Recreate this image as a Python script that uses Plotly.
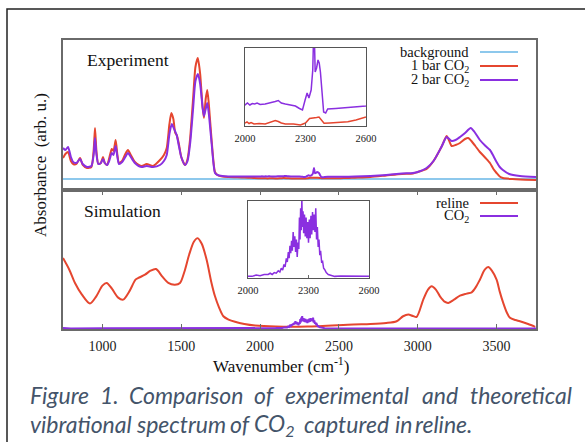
import plotly.graph_objects as go

# ---------------- data ----------------
x_ticks = [1000, 1500, 2000, 2500, 3000, 3500]
inset_ticks = [2000, 2300, 2600]

exp_bg_wn = [750, 1500, 2250, 3000, 3750]
exp_bg = [0.0, 0.0, 0.0, 0.0, 0.0]

exp_1bar_wn = [750, 765, 782, 800, 815, 835, 858, 875, 902, 930, 945, 953, 962, 974, 990,
               1004, 1015, 1030, 1045, 1059, 1070, 1084, 1095, 1105, 1125, 1145, 1162, 1180,
               1206, 1230, 1250, 1281, 1321, 1365, 1390, 1408, 1425, 1437, 1450, 1462, 1471,
               1485, 1500, 1524, 1540, 1556, 1575, 1590, 1605, 1620, 1635, 1644, 1655, 1665,
               1675, 1693, 1714, 1730, 1760, 1800, 1900,
               2000, 2010, 2020, 2030, 2045, 2070, 2100, 2130, 2150, 2165, 2180, 2200, 2240,
               2275, 2300, 2320, 2335, 2355, 2367, 2380, 2392, 2420, 2470, 2510, 2550, 2580, 2600,
               2700, 2800, 2900, 2970, 3000, 3056, 3100, 3150, 3183, 3200, 3215, 3240, 3268,
               3300, 3320, 3340, 3365, 3394, 3430, 3458, 3480, 3500, 3520, 3540, 3600, 3650, 3750]
exp_1bar = [0.21, 0.25, 0.27, 0.18, 0.15, 0.15, 0.21, 0.14, 0.11, 0.12, 0.30, 0.51, 0.28, 0.15, 0.16,
            0.22, 0.16, 0.14, 0.22, 0.30, 0.28, 0.39, 0.24, 0.16, 0.18, 0.25, 0.29, 0.24,
            0.17, 0.14, 0.13, 0.15, 0.13, 0.19, 0.24, 0.31, 0.55, 0.66, 0.60, 0.46, 0.44,
            0.35, 0.22, 0.14, 0.20, 0.40, 0.80, 1.12, 1.21, 1.05, 0.72, 0.61, 0.80, 0.89,
            0.75, 0.38, 0.07, 0.04, 0.025, 0.02, 0.015,
            0.007, 0.008, 0.0065, 0.0075, 0.006, 0.0065, 0.006, 0.008, 0.0095, 0.0085, 0.007, 0.006, 0.006,
            0.005, 0.007, 0.0115, 0.0117, 0.0125, 0.013, 0.010, 0.0067, 0.007, 0.0075, 0.0083, 0.010, 0.0115, 0.013,
            0.02, 0.035, 0.05, 0.055, 0.07, 0.10, 0.18, 0.32, 0.43, 0.38, 0.33, 0.34, 0.36,
            0.40, 0.41, 0.38, 0.33, 0.27, 0.21, 0.16, 0.10, 0.06, 0.025, 0.01, 0.0, -0.005, -0.01]

exp_2bar_wn = [750, 765, 782, 800, 815, 835, 858, 875, 902, 930, 945, 953, 962, 974, 990,
               1004, 1015, 1030, 1045, 1059, 1070, 1084, 1095, 1105, 1125, 1145, 1162, 1180,
               1206, 1230, 1250, 1281, 1321, 1365, 1390, 1408, 1425, 1440, 1455, 1471, 1485,
               1500, 1524, 1540, 1556, 1575, 1590, 1606, 1620, 1635, 1644, 1655, 1665, 1675,
               1693, 1714, 1730, 1760, 1800, 1900,
               2000, 2012, 2024, 2036, 2048, 2060, 2075, 2100, 2125, 2150, 2165, 2180, 2200,
               2225, 2250, 2270, 2285, 2298, 2308, 2317, 2328, 2336, 2342, 2348, 2355, 2362,
               2368, 2374, 2382, 2390, 2400, 2410, 2450, 2500, 2550, 2600,
               2700, 2800, 2900, 2970, 3000, 3056, 3100, 3150, 3183, 3200, 3215, 3240, 3268,
               3300, 3336, 3360, 3394, 3430, 3458, 3480, 3500, 3520, 3540, 3580, 3648, 3750]
exp_2bar = [0.31, 0.29, 0.32, 0.22, 0.17, 0.16, 0.20, 0.15, 0.12, 0.13, 0.25, 0.41, 0.25, 0.15, 0.16,
            0.20, 0.16, 0.14, 0.19, 0.26, 0.24, 0.33, 0.22, 0.15, 0.17, 0.22, 0.26, 0.22,
            0.16, 0.13, 0.12, 0.13, 0.12, 0.14, 0.18, 0.24, 0.45, 0.55, 0.50, 0.44, 0.33,
            0.22, 0.14, 0.18, 0.35, 0.70, 0.98, 1.05, 0.95, 0.72, 0.63, 0.70, 0.76, 0.65,
            0.35, 0.06, 0.04, 0.03, 0.025, 0.025,
            0.025, 0.027, 0.025, 0.0265, 0.026, 0.027, 0.0255, 0.026, 0.027, 0.0285, 0.0295, 0.027, 0.026,
            0.025, 0.024, 0.0215, 0.020, 0.030, 0.037, 0.032, 0.040, 0.060, 0.110, 0.058, 0.062, 0.070,
            0.067, 0.058, 0.035, 0.018, 0.017, 0.021, 0.0215, 0.0225, 0.023, 0.024,
            0.03, 0.04, 0.055, 0.06, 0.07, 0.11, 0.18, 0.32, 0.42, 0.40, 0.38, 0.39, 0.42,
            0.46, 0.51, 0.47, 0.39, 0.33, 0.29, 0.23, 0.17, 0.12, 0.09, 0.05, 0.03, 0.02]

sim_reline_wn = [750, 790, 826, 870, 921, 960, 1000, 1027, 1060, 1100, 1132, 1170, 1210, 1228,
                 1270, 1305, 1340, 1380, 1418, 1460, 1492, 1520, 1550, 1580, 1604, 1630, 1661,
                 1690, 1714, 1740, 1767, 1800, 1841, 1900, 1968, 2100, 2300, 2592, 2700, 2800,
                 2866, 2907, 2940, 2970, 2993, 3035, 3065, 3088, 3115, 3141, 3170, 3194, 3230,
                 3268, 3310, 3342, 3370, 3394, 3425, 3447, 3470, 3500, 3520, 3542, 3565, 3585,
                 3620, 3648, 3700, 3745]
sim_reline = [0.707, 0.59, 0.457, 0.34, 0.25, 0.32, 0.43, 0.457, 0.40, 0.31, 0.29, 0.37, 0.49, 0.507,
              0.54, 0.58, 0.597, 0.52, 0.457, 0.44, 0.457, 0.57, 0.74, 0.87, 0.907, 0.85, 0.69,
              0.47, 0.323, 0.21, 0.123, 0.09, 0.067, 0.045, 0.03, 0.02, 0.02, 0.04, 0.045, 0.055,
              0.073, 0.123, 0.14, 0.125, 0.117, 0.29, 0.39, 0.423, 0.39, 0.323, 0.27, 0.257, 0.29,
              0.33, 0.35, 0.363, 0.42, 0.49, 0.59, 0.617, 0.58, 0.49, 0.37, 0.257, 0.16, 0.107,
              0.085, 0.073, 0.045, 0.017]

sim_co2_wn = [750, 800, 1000, 1250, 1500, 1750, 1900,
              2000, 2020, 2040, 2060, 2080, 2100, 2110, 2120, 2130, 2140, 2150, 2158, 2165, 2172,
              2178, 2184, 2190, 2195, 2200, 2204, 2208, 2212, 2216, 2220, 2224, 2228, 2232, 2236,
              2240, 2244, 2248, 2252, 2255, 2258, 2261, 2264, 2267, 2270, 2273, 2276, 2280, 2284,
              2288, 2292, 2296, 2300, 2304, 2308, 2312, 2316, 2320, 2324, 2328, 2332, 2336, 2340,
              2344, 2348, 2352, 2356, 2360, 2365, 2370, 2375, 2380, 2388, 2398, 2410, 2430, 2460,
              2500, 2550, 2600, 3000, 3750]
sim_co2 = [0.004, 0.001, 0.002, 0.001, 0.001, 0.001, 0.002,
           0.002, 0.001, 0.003, 0.002, 0.004, 0.004, 0.006, 0.004, 0.007, 0.006, 0.010, 0.008, 0.014, 0.011,
           0.020, 0.016, 0.030, 0.024, 0.040, 0.030, 0.050, 0.038, 0.058, 0.042, 0.072, 0.048, 0.065, 0.040,
           0.060, 0.032, 0.055, 0.045, 0.095, 0.060, 0.110, 0.075, 0.125, 0.080, 0.105, 0.070, 0.100, 0.065,
           0.095, 0.062, 0.088, 0.055, 0.092, 0.062, 0.098, 0.068, 0.104, 0.075, 0.100, 0.072, 0.110, 0.060,
           0.080, 0.048, 0.060, 0.035, 0.042, 0.024, 0.025, 0.014, 0.012, 0.007, 0.004, 0.003, 0.001, 0.0015,
           0.001, 0.0005, 0.0005, 0.0, 0.0]

# ---------------- layout helpers ----------------
W, H = 585, 442
L, R, T, B = 63, 536, 40, 329


def px(x):
    return (x - L) / (R - L)


def py(y):
    return (B - y) / (B - T)


RED = '#E5462F'
PURPLE = '#8A2FE0'
BLUE = '#8DC8EC'
AXC = '#6a6a6a'
SERIF = 'Liberation Serif'
CAP = 'Lato'

fig = go.Figure()
fig.add_trace(go.Scatter(x=exp_bg_wn, y=exp_bg, xaxis='x2', yaxis='y2', mode='lines',
                         line=dict(color=BLUE, width=2)))
fig.add_trace(go.Scatter(x=exp_1bar_wn, y=exp_1bar, xaxis='x2', yaxis='y2', mode='lines',
                         line=dict(color=RED, width=2, shape='spline', smoothing=0.6)))
fig.add_trace(go.Scatter(x=exp_2bar_wn, y=exp_2bar, xaxis='x2', yaxis='y2', mode='lines',
                         line=dict(color=PURPLE, width=2, shape='spline', smoothing=0.6)))
fig.add_trace(go.Scatter(x=sim_reline_wn, y=sim_reline, xaxis='x', yaxis='y', mode='lines',
                         line=dict(color=RED, width=2, shape='spline', smoothing=0.8)))
fig.add_trace(go.Scatter(x=sim_co2_wn, y=sim_co2, xaxis='x', yaxis='y', mode='lines',
                         line=dict(color=PURPLE, width=2)))
# insets
fig.add_trace(go.Scatter(x=exp_1bar_wn, y=exp_1bar, xaxis='x3', yaxis='y3', mode='lines',
                         line=dict(color=RED, width=1.5)))
fig.add_trace(go.Scatter(x=exp_2bar_wn, y=exp_2bar, xaxis='x3', yaxis='y3', mode='lines',
                         line=dict(color=PURPLE, width=1.5)))
fig.add_trace(go.Scatter(x=sim_co2_wn, y=sim_co2, xaxis='x4', yaxis='y4', mode='lines',
                         line=dict(color=PURPLE, width=1.5)))

main_x = dict(range=[750, 3750], showgrid=False, zeroline=False, showline=True,
              linecolor=AXC, linewidth=1.5)
no_y = dict(showgrid=False, zeroline=False, showline=True, mirror=True, linecolor=AXC,
            linewidth=1.5, showticklabels=False, ticks='')
inset_x = dict(range=[2000, 2600], tickvals=inset_ticks, ticks='inside', ticklen=3,
               tickcolor=AXC, showgrid=False, zeroline=False, showline=True, mirror=True,
               linecolor='#555', linewidth=1, tickfont=dict(family=SERIF, size=10.5, color='#222'),
               ticklabelstandoff=2)
inset_y = dict(showgrid=False, zeroline=False, showline=True, mirror=True, linecolor='#555',
               linewidth=1, showticklabels=False, ticks='')

fig.update_layout(
    width=W, height=H, autosize=False, showlegend=False,
    margin=dict(l=L, r=W - R, t=T, b=H - B, pad=0),
    paper_bgcolor='white', plot_bgcolor='white',
    xaxis=dict(main_x, domain=[0, 1], anchor='y', tickvals=x_ticks, ticks='inside', ticklen=5,
               tickcolor=AXC, mirror='ticks',
               tickfont=dict(family=SERIF, size=14, color='#222'), ticklabelstandoff=3),
    yaxis=dict(no_y, domain=[0, py(190)], anchor='x', range=[-0.005, 1.39]),
    xaxis2=dict(main_x, domain=[0, 1], anchor='y2', showticklabels=False, ticks='', mirror=True),
    yaxis2=dict(no_y, domain=[py(190), 1], anchor='x2', range=[-0.11, 1.39]),
    xaxis3=dict(inset_x, domain=[px(245), px(366)], anchor='y3'),
    yaxis3=dict(inset_y, domain=[py(126), py(48)], anchor='x3', range=[0.004, 0.082]),
    xaxis4=dict(inset_x, domain=[px(248), px(369)], anchor='y4'),
    yaxis4=dict(inset_y, domain=[py(278), py(201)], anchor='x4', range=[-0.0016, 0.1216]),
)

ann = []
ann.append(dict(text='Absorbance  (arb. u.)', x=px(40), y=py(165), textangle=-90,
                xanchor='center', yanchor='middle',
                font=dict(family=SERIF, size=17, color='#111')))
ann.append(dict(text='Wavenumber (cm<sup>-1</sup>)', x=px(281), y=py(365),
                xanchor='center', yanchor='middle',
                font=dict(family=SERIF, size=17, color='#111')))
ann.append(dict(text='Experiment', x=px(85), y=py(60), xanchor='left', yanchor='middle',
                font=dict(family=SERIF, size=17.5, color='#111')))
ann.append(dict(text='Simulation', x=px(82), y=py(211), xanchor='left', yanchor='middle',
                font=dict(family=SERIF, size=17.5, color='#111')))

legend_rows = [('background', 52, BLUE), ('1 bar CO<sub>2</sub>', 66, RED),
               ('2 bar CO<sub>2</sub>', 80, PURPLE), ('reline', 203, RED),
               ('CO<sub>2</sub>', 216, PURPLE)]
shapes = []
for txt, yy, col in legend_rows:
    ann.append(dict(text=txt, x=px(471), y=py(yy), xanchor='right', yanchor='middle',
                    font=dict(family=SERIF, size=14.5, color='#111')))
    shapes.append(dict(type='line', xref='paper', yref='paper', x0=px(480), x1=px(518),
                       y0=py(yy), y1=py(yy), line=dict(color=col, width=2)))

caption_words = [
    ('Figure', 28, 395), ('1.', 98, 395), ('Comparison', 127, 395), ('of', 252, 395),
    ('experimental', 283, 395), ('and', 420, 395), ('theoretical', 468, 395),
    ('vibrational', 28, 424), ('spectrum', 134, 424), ('of', 228, 424),
    ('CO<sub>2</sub>', 252, 424), ('captured', 302, 424), ('in', 393, 424), ('reline.', 413, 424),
]
for w, xx, yy in caption_words:
    ann.append(dict(text='<i>' + w + '</i>', x=px(xx), y=py(yy), xanchor='left', yanchor='middle',
                    font=dict(family=CAP, size=23, color='#44546A')))

for a in ann:
    a.setdefault('xref', 'paper')
    a.setdefault('yref', 'paper')
    a.setdefault('showarrow', False)

shapes.append(dict(type='rect', xref='paper', yref='paper', x0=px(7), x1=px(620),
                   y0=py(470), y1=py(9), line=dict(color='#222', width=1.5)))

fig.update_layout(annotations=ann, shapes=shapes)
fig.write_html('out.html', config={'displayModeBar': False},
               post_script="document.body.style.margin='0px';")
